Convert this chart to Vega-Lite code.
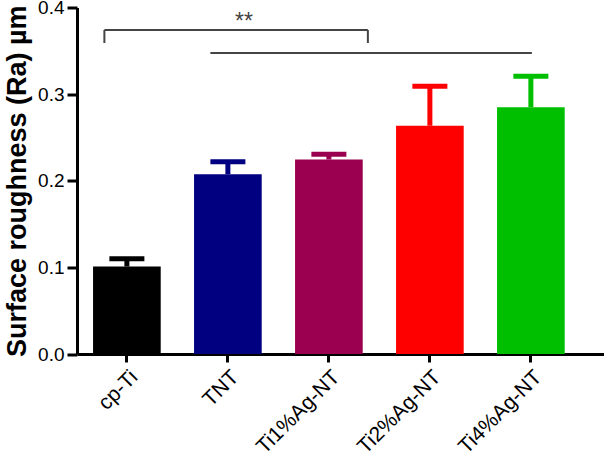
{
  "$schema": "https://vega.github.io/schema/vega-lite/v6.json",
  "width": 527,
  "height": 346.5,
  "autosize": "none",
  "padding": {"left": 77, "top": 7.5, "right": 0, "bottom": 105},
  "config": {"view": {"stroke": null}, "font": "Liberation Sans"},
  "datasets": {
    "bars": [
      {"group": "cp-Ti", "mean": 0.101, "upper": 0.110},
      {"group": "TNT", "mean": 0.2075, "upper": 0.222},
      {"group": "Ti1%Ag-NT", "mean": 0.2245, "upper": 0.2305},
      {"group": "Ti2%Ag-NT", "mean": 0.2635, "upper": 0.309},
      {"group": "Ti4%Ag-NT", "mean": 0.2848, "upper": 0.3205}
    ],
    "bracket": [
      {"from": "cp-Ti", "to": "Ti2%Ag-NT", "top": 0.374, "bottom": 0.359, "mid": "TNT", "label": "**"}
    ],
    "line": [
      {"from": "TNT", "to": "Ti4%Ag-NT", "y": 0.3476}
    ]
  },
  "layer": [
    {
      "data": {"name": "bars"},
      "mark": {"type": "bar"},
      "encoding": {
        "x": {
          "field": "group", "type": "nominal", "sort": null,
          "scale": {"domain": ["cp-Ti", "TNT", "Ti1%Ag-NT", "Ti2%Ag-NT", "Ti4%Ag-NT"], "paddingInner": 0.33, "paddingOuter": 0.274, "align": 0.29},
          "axis": {"title": null, "labelAngle": -45, "labelFontSize": 21, "labelColor": "black", "domainWidth": 3, "domainColor": "black", "tickWidth": 3, "tickColor": "black", "tickSize": 8, "labelPadding": 4}
        },
        "y": {
          "field": "mean", "type": "quantitative",
          "scale": {"domain": [0, 0.4], "nice": false},
          "axis": {"values": [0, 0.1, 0.2, 0.3, 0.4], "format": ".1f", "grid": false, "labelFontSize": 19, "labelColor": "black", "domainWidth": 3, "domainColor": "black", "tickWidth": 3, "tickColor": "black", "tickSize": 10, "labelPadding": 3, "title": "Surface roughness (Ra) µm", "titleFontSize": 27, "titleFontWeight": "bold", "titleColor": "black", "titlePadding": 6}
        },
        "color": {
          "field": "group", "type": "nominal", "legend": null,
          "scale": {"domain": ["cp-Ti", "TNT", "Ti1%Ag-NT", "Ti2%Ag-NT", "Ti4%Ag-NT"], "range": ["#000000", "#000080", "#9B0050", "#FF0000", "#00BF00"]}
        }
      }
    },
    {
      "data": {"name": "bars"},
      "mark": {"type": "rule", "strokeWidth": 5},
      "encoding": {
        "x": {"field": "group", "type": "nominal", "sort": null},
        "y": {"field": "mean", "type": "quantitative"},
        "y2": {"field": "upper"},
        "color": {"field": "group", "type": "nominal", "legend": null}
      }
    },
    {
      "data": {"name": "bars"},
      "mark": {"type": "tick", "size": 35, "thickness": 5, "opacity": 1},
      "encoding": {
        "x": {"field": "group", "type": "nominal", "sort": null},
        "y": {"field": "upper", "type": "quantitative"},
        "color": {"field": "group", "type": "nominal", "legend": null}
      }
    },
    {
      "data": {"name": "bracket"},
      "mark": {"type": "rule", "color": "#444444", "strokeWidth": 2, "xOffset": -22.5, "x2Offset": -62},
      "encoding": {
        "x": {"field": "from", "type": "nominal"},
        "x2": {"field": "to"},
        "y": {"field": "top", "type": "quantitative"}
      }
    },
    {
      "data": {"name": "bracket"},
      "mark": {"type": "rule", "color": "#444444", "strokeWidth": 2, "xOffset": -22.5},
      "encoding": {
        "x": {"field": "from", "type": "nominal"},
        "y": {"field": "bottom", "type": "quantitative"},
        "y2": {"field": "top"}
      }
    },
    {
      "data": {"name": "bracket"},
      "mark": {"type": "rule", "color": "#444444", "strokeWidth": 2, "xOffset": -62},
      "encoding": {
        "x": {"field": "to", "type": "nominal"},
        "y": {"field": "bottom", "type": "quantitative"},
        "y2": {"field": "top"}
      }
    },
    {
      "data": {"name": "bracket"},
      "mark": {"type": "text", "color": "#444444", "fontSize": 23, "dx": 16, "dy": 4, "baseline": "bottom"},
      "encoding": {
        "x": {"field": "mid", "type": "nominal"},
        "y": {"field": "top", "type": "quantitative"},
        "text": {"field": "label"}
      }
    },
    {
      "data": {"name": "line"},
      "mark": {"type": "rule", "color": "#444444", "strokeWidth": 2, "xOffset": -17.5, "x2Offset": 1},
      "encoding": {
        "x": {"field": "from", "type": "nominal"},
        "x2": {"field": "to"},
        "y": {"field": "y", "type": "quantitative"}
      }
    }
  ]
}
